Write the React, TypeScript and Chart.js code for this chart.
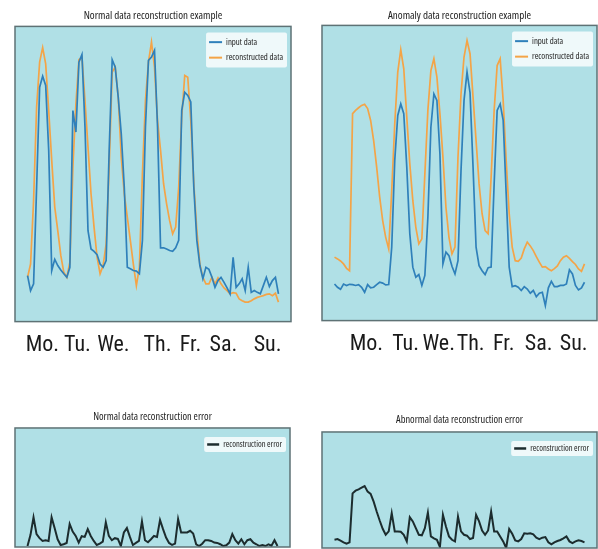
import React, { useEffect, useRef } from 'react';
import { Chart, registerables } from 'chart.js';

Chart.register(...registerables);

const TEXT_FONT = '"Open Sans", "DejaVu Sans Condensed", sans-serif';
const DAY_FONT = '"Roboto Condensed", "Open Sans", sans-serif';

// ---------------- data ----------------
const dayLabels = ['Mo.', 'Tu.', 'We.', 'Th.', 'Fr.', 'Sa.', 'Su.'];
// tick values (x index units) where each day label sits
const normalDayTicks = [4.9, 16.5, 28.4, 43.0, 53.9, 64.8, 79.4];
const anomalyDayTicks = [10.6, 23.6, 34.6, 45.2, 56.2, 67.8, 79.4];

const normalInput = [
  15.6, 10.5, 12.8, 45.5, 79.4, 83.1, 80.0, 58.0, 17.3, 21.1,
  19.0, 17.5, 16.2, 15.0, 18.4, 71.5, 64.2, 87.9, 90.5, 65.9,
  30.8, 24.6, 23.8, 22.7, 19.5, 18.4, 20.7, 58.0, 88.7, 86.2,
  76.0, 63.6, 45.5, 18.4, 17.9, 17.3, 17.1, 16.2, 27.5, 65.9,
  88.5, 89.6, 91.9, 65.9, 25.0, 25.0, 24.6, 24.1, 23.8, 25.0,
  27.5, 71.5, 77.7, 76.6, 74.4, 45.5, 27.5, 19.0, 14.5, 18.4,
  17.7, 15.0, 11.6, 13.9, 15.0, 13.3, 11.4, 9.4, 21.8, 11.6,
  12.8, 14.5, 10.5, 18.4, 9.9, 10.5, 9.9, 9.4, 12.2, 15.0,
  11.9, 13.9, 15.0, 9.4,
];
const normalRecon = [
  15.0, 19.5, 41.0, 72.7, 87.9, 92.8, 87.3, 71.5, 54.6, 38.8,
  30.8, 22.4, 16.7, 15.0, 20.1, 52.3, 73.8, 88.7, 89.6, 74.9,
  59.1, 43.3, 32.0, 21.8, 16.2, 19.0, 26.3, 52.3, 84.5, 86.2,
  76.0, 55.7, 43.3, 35.4, 27.5, 19.5, 12.2, 18.4, 50.1, 74.9,
  87.9, 94.7, 86.2, 68.1, 58.0, 46.7, 39.9, 34.2, 29.7, 32.0,
  45.5, 69.3, 83.4, 82.8, 68.1, 46.7, 30.8, 19.5, 15.0, 12.8,
  12.8, 15.0, 12.8, 14.8, 12.8, 11.4, 10.5, 9.4, 9.8, 9.6,
  7.7, 7.1, 6.6, 6.6, 7.1, 7.7, 8.2, 8.5, 8.8, 9.2,
  9.4, 8.8, 9.6, 6.6,
];
const anomalyInput = [
  12.4, 11.3, 10.6, 12.4, 11.9, 12.3, 12.2, 11.9, 12.2, 11.3,
  9.6, 12.2, 11.1, 11.3, 12.2, 13.0, 12.7, 12.1, 12.2, 24.9,
  54.2, 69.5, 73.4, 70.1, 52.0, 29.4, 18.1, 14.7, 15.6, 11.9,
  15.3, 35.0, 65.5, 76.8, 74.6, 56.5, 19.2, 23.2, 22.0, 18.4,
  15.8, 20.3, 50.8, 74.6, 84.2, 77.2, 52.0, 24.9, 18.6, 16.9,
  15.6, 17.9, 18.1, 46.3, 71.2, 73.4, 67.8, 42.9, 18.1, 11.5,
  11.8, 11.3, 10.2, 11.5, 10.7, 9.3, 10.2, 8.1, 9.3, 9.6,
  5.1, 11.1, 13.3, 11.5, 11.5, 11.9, 11.9, 12.4, 17.2, 15.8,
  11.9, 10.4, 11.1, 13.0,
];
const anomalyRecon = [
  21.5, 20.9, 20.2, 19.2, 17.7, 16.9, 70.1, 71.2, 72.1, 72.9,
  73.3, 71.8, 67.8, 61.0, 52.0, 41.8, 33.9, 28.2, 24.3, 44.1,
  66.7, 84.2, 91.8, 85.3, 68.9, 53.1, 40.7, 31.6, 26.0, 27.7,
  49.7, 71.2, 84.7, 88.7, 82.5, 70.1, 55.4, 38.4, 28.2, 22.6,
  24.9, 55.4, 76.8, 89.3, 94.9, 90.4, 75.7, 61.0, 46.3, 36.2,
  30.5, 29.4, 48.6, 71.2, 86.4, 88.7, 74.6, 54.2, 36.2, 24.9,
  20.3, 20.1, 21.2, 24.3, 26.6, 25.3, 23.7, 21.7, 19.8, 18.1,
  18.3, 17.5, 16.9, 17.6, 18.5, 20.3, 21.5, 22.0, 21.1, 20.0,
  19.0, 17.5, 16.7, 19.2,
];
const normalError = [
  0.8, 10.2, 24.9, 10.8, 7.4, 5.1, 5.7, 5.1, 24.9, 15.9,
  6.5, 1.7, 2.3, 3.4, 19.3, 13.0, 9.3, 3.7, 9.1, 8.5,
  15.0, 9.3, 5.1, 1.7, 2.8, 4.5, 20.7, 9.3, 5.7, 7.4,
  6.8, 0.8, 12.2, 15.9, 8.5, 1.7, 3.4, 5.1, 21.5, 5.7,
  4.0, 6.5, 9.3, 8.5, 22.7, 15.0, 7.9, 3.4, 1.7, 2.8,
  23.5, 12.2, 12.2, 12.2, 13.6, 11.3, 2.3, 0.8, 2.8, 5.7,
  5.7, 5.1, 3.7, 3.4, 2.3, 0.8, 1.4, 3.7, 10.8, 5.7,
  2.8, 6.5, 2.3, 5.7, 6.5, 3.7, 2.3, 0.8, 1.7, 0.8,
  2.3, 1.1, 5.7, 0.8,
];
const anomalyError = [
  7.1, 7.7, 6.3, 4.9, 3.7, 4.9, 47.1, 49.4, 50.6, 52.0,
  53.4, 48.6, 46.6, 40.0, 31.4, 23.7, 16.6, 11.4, 14.3, 30.0,
  14.3, 14.3, 14.0, 11.4, 5.7, 26.6, 22.9, 17.1, 11.4, 10.9,
  17.1, 30.6, 10.0, 8.3, 7.1, 0.9, 28.6, 18.6, 10.0, 7.1,
  5.7, 27.1, 14.3, 11.4, 10.6, 7.7, 8.6, 28.6, 22.9, 15.1,
  11.4, 15.1, 31.4, 14.3, 14.3, 10.0, 5.7, 0.0, 16.3, 12.3,
  6.6, 5.7, 7.7, 12.6, 12.3, 12.6, 11.7, 8.9, 7.7, 8.9,
  9.4, 4.9, 3.1, 4.9, 6.0, 6.9, 8.3, 10.0, 5.7, 4.3,
  5.7, 6.6, 6.0, 4.9,
];

const BLUE = '#2f80ba';
const ORANGE = '#f4a447';
const DARK = '#1c2c2e';

// ---------------- plugins ----------------
const plotFrame = {
  id: 'plotFrame',
  beforeDatasetsDraw(chart: any) {
    const { ctx, chartArea: a } = chart;
    ctx.save();
    ctx.fillStyle = '#b0e0e6';
    ctx.fillRect(a.left, a.top, a.right - a.left, a.bottom - a.top);
    ctx.restore();
  },
  afterDatasetsDraw(chart: any) {
    const { ctx, chartArea: a } = chart;
    ctx.save();
    ctx.strokeStyle = '#5e7275';
    ctx.lineWidth = 1.5;
    ctx.strokeRect(a.left, a.top, a.right - a.left, a.bottom - a.top);
    ctx.restore();
  },
};

const insideLegend = {
  id: 'insideLegend',
  afterDatasetsDraw(chart: any, _args: any, opts: any) {
    const { ctx, chartArea: a } = chart;
    const sets = chart.data.datasets;
    ctx.save();
    ctx.font = `normal condensed ${opts.fontSize}px ${TEXT_FONT}`;
    const textW = Math.max(...sets.map((d: any) => ctx.measureText(d.label).width));
    const padX = 3;
    const padY = opts.padY;
    const lineLen = opts.lineLen;
    const gap = 4;
    const rowH = opts.rowH;
    const w = padX + lineLen + gap + textW + padX + 1;
    const h = padY * 2 + rowH * sets.length;
    const x = a.right - opts.insetRight - w;
    const y = a.top + opts.insetTop;
    ctx.fillStyle = 'rgba(255,255,255,0.8)';
    ctx.beginPath();
    const r = 2;
    ctx.moveTo(x + r, y);
    ctx.lineTo(x + w - r, y);
    ctx.quadraticCurveTo(x + w, y, x + w, y + r);
    ctx.lineTo(x + w, y + h - r);
    ctx.quadraticCurveTo(x + w, y + h, x + w - r, y + h);
    ctx.lineTo(x + r, y + h);
    ctx.quadraticCurveTo(x, y + h, x, y + h - r);
    ctx.lineTo(x, y + r);
    ctx.quadraticCurveTo(x, y, x + r, y);
    ctx.closePath();
    ctx.fill();
    sets.forEach((d: any, i: number) => {
      const cy = y + padY + rowH * (i + 0.5);
      ctx.strokeStyle = d.borderColor;
      ctx.lineWidth = opts.sampleWidth;
      ctx.beginPath();
      ctx.moveTo(x + padX, cy);
      ctx.lineTo(x + padX + lineLen, cy);
      ctx.stroke();
      ctx.fillStyle = '#222';
      ctx.textBaseline = 'middle';
      ctx.textAlign = 'left';
      ctx.fillText(d.label, x + padX + lineLen + gap, cy);
    });
    ctx.restore();
  },
};

type Series = { label: string; values: number[]; color: string; width: number };

type PanelProps = {
  left: number;
  top: number;
  width: number;
  height: number;
  title: string;
  titleSize: number;
  titlePad: { top: number; bottom: number };
  padding: { left: number; right: number; top: number; bottom: number };
  series: Series[];
  dayTicks?: number[];
  legend: { fontSize: number; rowH: number; padY: number; lineLen: number; sampleWidth: number; insetTop: number; insetRight: number };
};

function Panel(p: PanelProps) {
  const ref = useRef<HTMLCanvasElement>(null);
  useEffect(() => {
    const ticks = p.dayTicks;
    const chart = new Chart(ref.current as HTMLCanvasElement, {
      type: 'line',
      data: {
        datasets: p.series.map((s) => ({
          label: s.label,
          data: s.values.map((v, i) => ({ x: i, y: v })),
          borderColor: s.color,
          backgroundColor: s.color,
          borderWidth: s.width,
          pointRadius: 0,
          tension: 0,
          fill: false,
        })),
      },
      options: {
        responsive: false,
        animation: false,
        devicePixelRatio: 1,
        layout: { padding: p.padding },
        scales: {
          x: {
            type: 'linear',
            min: -4.15,
            max: 87.15,
            display: !!ticks,
            grid: { display: false },
            border: { display: false },
            afterBuildTicks: (scale: any) => {
              if (ticks) scale.ticks = ticks.map((v) => ({ value: v }));
            },
            ticks: {
              autoSkip: false,
              maxRotation: 0,
              minRotation: 0,
              padding: 3,
              color: '#1a1a1a',
              font: { family: DAY_FONT, size: 22 },
              callback: (_v: any, i: number) => dayLabels[i],
            },
          },
          y: { display: false, min: 0, max: 100 },
        },
        plugins: {
          legend: { display: false },
          tooltip: { enabled: false },
          title: {
            display: true,
            text: p.title,
            color: '#222',
            font: { family: TEXT_FONT, size: p.titleSize, weight: 'condensed' },
            padding: p.titlePad,
          },
          insideLegend: p.legend,
        } as any,
      },
      plugins: [plotFrame, insideLegend],
    } as any);
    return () => chart.destroy();
  }, []);
  return (
    <canvas
      ref={ref}
      width={p.width}
      height={p.height}
      style={{ position: 'absolute', left: p.left, top: p.top, width: p.width, height: p.height }}
    />
  );
}

const topLegend = { fontSize: 8.8, rowH: 15.5, padY: 2, lineLen: 13, sampleWidth: 2, insetTop: 6, insetRight: 4 };
const bottomLegend = { fontSize: 8.5, rowH: 13, padY: 1, lineLen: 12, sampleWidth: 2.5, insetTop: 9, insetRight: 4 };

export default function App() {
  return (
    <div style={{ position: 'fixed', left: 0, top: 0, width: 598, height: 549, background: '#fff', overflow: 'hidden' }}>
      <Panel
        left={0}
        top={0}
        width={300}
        height={364}
        title="Normal data reconstruction example"
        titleSize={11}
        titlePad={{ top: 9, bottom: 4.2 }}
        padding={{ left: 15, right: 9, top: 0, bottom: 2 }}
        series={[
          { label: 'input data', values: normalInput, color: BLUE, width: 1.7 },
          { label: 'reconstructed data', values: normalRecon, color: ORANGE, width: 1.7 },
        ]}
        dayTicks={normalDayTicks}
        legend={topLegend}
      />
      <Panel
        left={306}
        top={0}
        width={292}
        height={364}
        title="Anomaly data reconstruction example"
        titleSize={11}
        titlePad={{ top: 9, bottom: 3.2 }}
        padding={{ left: 16, right: 1, top: 0, bottom: 3 }}
        series={[
          { label: 'input data', values: anomalyInput, color: BLUE, width: 1.7 },
          { label: 'reconstructed data', values: anomalyRecon, color: ORANGE, width: 1.7 },
        ]}
        dayTicks={anomalyDayTicks}
        legend={topLegend}
      />
      <Panel
        left={0}
        top={395}
        width={300}
        height={154}
        title="Normal data reconstruction error"
        titleSize={10.4}
        titlePad={{ top: 16, bottom: 4.5 }}
        padding={{ left: 15, right: 10, top: 0, bottom: 2 }}
        series={[{ label: 'reconstruction error', values: normalError, color: DARK, width: 2 }]}
        legend={bottomLegend}
      />
      <Panel
        left={306}
        top={395}
        width={292}
        height={154}
        title="Abnormal data reconstruction error"
        titleSize={10.4}
        titlePad={{ top: 19, bottom: 5.5 }}
        padding={{ left: 16, right: 1, top: 0, bottom: 1 }}
        series={[{ label: 'reconstruction error', values: anomalyError, color: DARK, width: 2 }]}
        legend={bottomLegend}
      />
    </div>
  );
}
